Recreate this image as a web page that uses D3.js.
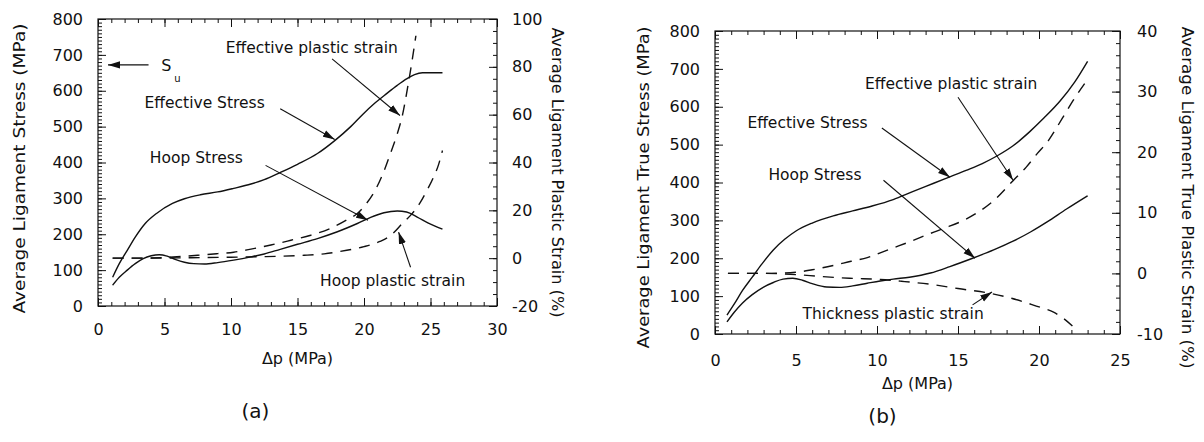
<!DOCTYPE html>
<html>
<head>
<meta charset="utf-8">
<script src="https://cdn.jsdelivr.net/npm/d3@7"></script>
<style>
  html, body { margin: 0; padding: 0; background: #fff; }
  svg { display: block; }
  text { font-family: "DejaVu Sans", "Liberation Sans", sans-serif; fill: #111; }
</style>
</head>
<body>
<svg id="chart" width="1204" height="442"></svg>
<script>
// ---------- Panel (a): engineering stress / plastic strain vs pressure difference ----------
const dpEffStressA = [1.1, 1.6, 2.2, 2.8, 3.5, 4.4, 5.6, 6.5, 7.7, 9.0, 10.2, 11.5, 12.5, 13.7, 15.0, 16.5, 17.8, 19.0, 19.9, 20.8, 21.7, 22.5, 23.2, 23.8, 24.4, 25.0, 25.9];
const effStressA   = [80, 118, 155, 192, 228, 258, 286, 299, 310, 318, 328, 340, 352, 372, 395, 425, 461, 500, 534, 565, 592, 615, 633, 645, 650, 650, 650];

const dpHoopStressA = [1.1, 1.6, 2.2, 2.8, 3.4, 4.0, 4.6, 5.2, 5.8, 6.5, 7.2, 8.0, 9.0, 10.2, 11.5, 12.5, 13.7, 15.0, 16.5, 18.0, 19.5, 20.5, 21.5, 22.5, 23.2, 24.0, 24.8, 25.9];
const hoopStressA   = [58, 80, 100, 118, 132, 140, 143, 139, 130, 122, 118, 117, 121, 128, 137, 145, 158, 172, 188, 207, 230, 247, 260, 265, 262, 248, 232, 214];

const dpEffStrainA = [1.1, 3.0, 5.0, 6.5, 7.5, 9.0, 10.2, 11.5, 13.0, 14.5, 16.0, 17.5, 18.7, 19.5, 20.2, 20.8, 21.4, 22.0, 22.5, 22.9, 23.3, 23.6, 23.9];
const effStrainA   = [0, 0, 0.3, 0.8, 1.2, 1.9, 2.5, 3.8, 5.5, 7.5, 9.6, 12.5, 16.0, 18.7, 23.0, 28.0, 35.0, 44.0, 52.0, 60.0, 72.0, 82.0, 93.0];

const dpHoopStrainA = [1.1, 4.0, 7.0, 10.0, 12.0, 13.7, 15.5, 17.0, 18.7, 20.0, 21.2, 22.0, 22.9, 23.6, 24.2, 24.7, 25.2, 25.6, 25.9];
const hoopStrainA   = [0, 0, 0.2, 0.4, 0.6, 0.8, 1.2, 1.8, 3.3, 4.8, 7.0, 9.5, 14.6, 18.5, 23.0, 28.0, 33.5, 39.0, 45.0];

const xTicksA  = [0, 5, 10, 15, 20, 25, 30];
const yLTicksA = [0, 100, 200, 300, 400, 500, 600, 700, 800];
const yRTicksA = [-20, 0, 20, 40, 60, 80, 100];

// ---------- Panel (b): true stress / true plastic strain vs pressure difference ----------
const dpEffStressB = [0.74, 1.2, 1.7, 2.3, 2.9, 3.6, 4.3, 5.0, 6.0, 7.3, 8.5, 9.7, 11.0, 12.2, 13.5, 14.5, 15.5, 16.5, 17.4, 18.4, 19.4, 20.3, 21.3, 22.2, 23.0];
const effStressB   = [50, 80, 115, 150, 185, 222, 250, 272, 293, 312, 325, 338, 355, 376, 398, 415, 432, 450, 470, 497, 533, 570, 615, 665, 720];

const dpHoopStressB = [0.74, 1.2, 1.7, 2.3, 3.0, 3.6, 4.2, 4.8, 5.4, 6.0, 6.9, 7.7, 8.5, 9.4, 10.2, 11.0, 12.0, 13.3, 14.5, 15.9, 17.2, 18.4, 19.5, 20.5, 21.7, 23.0];
const hoopStressB   = [32, 58, 82, 104, 124, 136, 145, 147, 142, 133, 124, 123, 127, 134, 140, 145, 150, 161, 178, 200, 222, 245, 270, 296, 330, 365];

const dpEffStrainB = [0.8, 3.0, 5.0, 6.0, 7.3, 8.4, 9.4, 10.2, 11.0, 12.0, 13.3, 14.3, 15.3, 16.3, 17.2, 18.4, 19.2, 19.9, 20.6, 21.1, 21.6, 22.1, 23.0];
const effStrainB   = [0, 0, 0.2, 0.6, 1.3, 2.0, 2.6, 3.4, 4.2, 5.2, 6.6, 7.6, 8.7, 10.2, 12.0, 15.3, 17.5, 19.8, 22.0, 24.1, 26.3, 28.5, 32.0];

const dpThickStrainB = [0.8, 3.0, 5.0, 6.5, 8.3, 10.2, 11.5, 13.3, 15.0, 17.0, 18.3, 19.4, 20.2, 20.9, 21.5, 22.2];
const thickStrainB   = [0, 0, -0.2, -0.5, -0.8, -1.0, -1.3, -1.8, -2.5, -3.3, -4.1, -5.0, -5.7, -6.4, -7.4, -9.0];

const xTicksB  = [0, 5, 10, 15, 20, 25];
const yLTicksB = [0, 100, 200, 300, 400, 500, 600, 700, 800];
const yRTicksB = [-10, 0, 10, 20, 30, 40];

// ---------- drawing ----------
const svg = d3.select("#chart");
const ink = "#111";

svg.append("defs").append("marker")
  .attr("id", "head")
  .attr("viewBox", "0 -4 12 8")
  .attr("refX", 12).attr("refY", 0)
  .attr("markerWidth", 12).attr("markerHeight", 8)
  .attr("markerUnits", "userSpaceOnUse")
  .attr("orient", "auto")
  .append("path")
  .attr("d", "M0,-3.6L12,0L0,3.6Z")
  .attr("fill", ink);

const zip = (xs, ys) => xs.map((v, i) => [v, ys[i]]);

function styleAxis(sel, size) {
  sel.select(".domain").remove();
  sel.selectAll("line").attr("stroke", ink).attr("stroke-width", 1);
  sel.selectAll("text").attr("font-size", size).attr("font-family", '"DejaVu Sans", sans-serif').attr("fill", ink);
}

function drawPanel(p) {
  const g = svg.append("g");
  const x = d3.scaleLinear().domain(p.xDomain).range([p.left, p.right]);
  const yL = d3.scaleLinear().domain(p.yLDomain).range([p.bottom, p.top]);
  const yR = d3.scaleLinear().domain(p.yRDomain).range([p.bottom, p.top]);

  const xMinor = d3.range(p.xDomain[0], p.xDomain[1] + 0.001, 1);
  const yLMinor = d3.range(p.yLDomain[0], p.yLDomain[1] + 0.001, 10);
  const yRMinor = d3.range(p.yRDomain[0], p.yRDomain[1] + 0.001, p.yRMinorStep);

  // minor ticks, all four sides, pointing inward
  g.append("g").attr("transform", `translate(0,${p.bottom})`)
    .call(d3.axisBottom(x).tickValues(xMinor).tickSize(-4).tickFormat("")).call(styleAxis, 16);
  g.append("g").attr("transform", `translate(0,${p.top})`)
    .call(d3.axisTop(x).tickValues(xMinor).tickSize(-4).tickFormat("")).call(styleAxis, 16);
  g.append("g").attr("transform", `translate(${p.left},0)`)
    .call(d3.axisLeft(yL).tickValues(yLMinor).tickSize(-4).tickFormat("")).call(styleAxis, 16);
  g.append("g").attr("transform", `translate(${p.right},0)`)
    .call(d3.axisRight(yR).tickValues(yRMinor).tickSize(-4).tickFormat("")).call(styleAxis, 16);

  // major ticks with labels
  g.append("g").attr("transform", `translate(0,${p.bottom})`)
    .call(d3.axisBottom(x).tickValues(p.xTicks).tickSize(-8).tickPadding(p.xPad).tickFormat(d3.format("d"))).call(styleAxis, 16);
  g.append("g").attr("transform", `translate(0,${p.top})`)
    .call(d3.axisTop(x).tickValues(p.xTicks).tickSize(-8).tickFormat("")).call(styleAxis, 16);
  g.append("g").attr("transform", `translate(${p.left},0)`)
    .call(d3.axisLeft(yL).tickValues(p.yLTicks).tickSize(-8).tickPadding(15).tickFormat(d3.format("d"))).call(styleAxis, 16);
  g.append("g").attr("transform", `translate(${p.right},0)`)
    .call(d3.axisRight(yR).tickValues(p.yRTicks).tickSize(-8).tickPadding(p.yRPad).tickFormat(d => String(d))).call(styleAxis, 16);

  // frame
  g.append("rect")
    .attr("x", p.left).attr("y", p.top)
    .attr("width", p.right - p.left).attr("height", p.bottom - p.top)
    .attr("fill", "none").attr("stroke", ink).attr("stroke-width", 1.2);

  // curves
  p.series.forEach(s => {
    const y = s.axis === "L" ? yL : yR;
    const line = d3.line().x(d => x(d[0])).y(d => y(d[1])).curve(d3.curveMonotoneX);
    g.append("path")
      .attr("d", line(zip(s.xs, s.ys)))
      .attr("fill", "none")
      .attr("stroke", ink)
      .attr("stroke-width", 1.4)
      .attr("stroke-dasharray", s.dashed ? "11,8" : null);
  });

  // callouts: label text plus arrow, positioned in data units on the stress axis
  p.notes.forEach(n => {
    g.append("text")
      .attr("x", x(n.tx)).attr("y", yL(n.ty))
      .attr("dy", "0.35em")
      .attr("font-size", 15.5)
      .text(n.text);
    g.append("line")
      .attr("x1", x(n.ax1)).attr("y1", yL(n.ay1))
      .attr("x2", x(n.ax2)).attr("y2", yL(n.ay2))
      .attr("stroke", ink).attr("stroke-width", 1.1)
      .attr("marker-end", "url(#head)");
  });

  // axis titles
  const midY = (p.top + p.bottom) / 2;
  g.append("text")
    .attr("transform", `translate(${p.left - p.yLTitleOff},${midY + p.yLTitleShift}) rotate(-90)`)
    .attr("text-anchor", "middle").attr("dominant-baseline", "central")
    .attr("font-size", 16)
    .attr("textLength", p.yLTitleLen).attr("lengthAdjust", "spacingAndGlyphs")
    .text(p.yLTitle);
  g.append("text")
    .attr("transform", `translate(${p.right + p.yRTitleOff},${midY + p.yRTitleShift}) rotate(90)`)
    .attr("text-anchor", "middle").attr("dominant-baseline", "central")
    .attr("font-size", 16)
    .attr("textLength", p.yRTitleLen).attr("lengthAdjust", "spacingAndGlyphs")
    .text(p.yRTitle);
  g.append("text")
    .attr("x", (p.left + p.right) / 2).attr("y", p.bottom + p.xTitleOff)
    .attr("text-anchor", "middle").attr("dominant-baseline", "central")
    .attr("font-size", 16).text("Δp (MPa)");
  g.append("text")
    .attr("x", (p.left + p.right) / 2 - p.tagShift).attr("y", p.bottom + p.tagOff)
    .attr("text-anchor", "middle").attr("dominant-baseline", "central")
    .attr("font-size", 20).text(p.tag);

  return { x, yL, yR, g };
}

const panelA = drawPanel({
  left: 98, right: 497, top: 19, bottom: 306,
  xDomain: [0, 30], yLDomain: [0, 800], yRDomain: [-20, 100], yRMinorStep: 5,
  xTicks: xTicksA, yLTicks: yLTicksA, yRTicks: yRTicksA,
  xPad: 18, yRPad: 15,
  yLTitle: "Average Ligament Stress (MPa)",
  yRTitle: "Average Ligament Plastic Strain (%)",
  yLTitleOff: 79, yLTitleShift: 6, yLTitleLen: 290,
  yRTitleOff: 60, yRTitleShift: 10, yRTitleLen: 290,
  xTitleOff: 52, tag: "(a)", tagOff: 105, tagShift: 42,
  series: [
    { xs: dpEffStressA, ys: effStressA, axis: "L" },
    { xs: dpHoopStressA, ys: hoopStressA, axis: "L" },
    { xs: dpEffStrainA, ys: effStrainA, axis: "R", dashed: true },
    { xs: dpHoopStrainA, ys: hoopStrainA, axis: "R", dashed: true }
  ],
  notes: [
    { text: "Effective plastic strain", tx: 9.6, ty: 719, ax1: 17.6, ay1: 689, ax2: 22.7, ay2: 531 },
    { text: "Effective Stress", tx: 3.5, ty: 567, ax1: 13.7, ay1: 550, ax2: 17.8, ay2: 464 },
    { text: "Hoop Stress", tx: 3.9, ty: 414, ax1: 12.6, ay1: 392, ax2: 20.3, ay2: 239 },
    { text: "Hoop plastic strain", tx: 16.7, ty: 72, ax1: 23.5, ay1: 108, ax2: 22.6, ay2: 206 }
  ]
});

// ultimate strength marker on the stress axis
{
  const { x, yL, g } = panelA;
  const su = 672;
  g.append("line")
    .attr("x1", x(3.8)).attr("y1", yL(su))
    .attr("x2", x(0.75)).attr("y2", yL(su))
    .attr("stroke", ink).attr("stroke-width", 1.1)
    .attr("marker-end", "url(#head)");
  const t = g.append("text")
    .attr("x", x(4.75)).attr("y", yL(su)).attr("dy", "0.35em")
    .attr("font-size", 16);
  t.append("tspan").text("S");
  t.append("tspan").attr("font-size", 10).attr("dx", 3).attr("dy", 11).text("u");
}

drawPanel({
  left: 715, right: 1120, top: 31, bottom: 334,
  xDomain: [0, 25], yLDomain: [0, 800], yRDomain: [-10, 40], yRMinorStep: 2,
  xTicks: xTicksB, yLTicks: yLTicksB, yRTicks: yRTicksB,
  xPad: 21, yRPad: 17,
  yLTitle: "Average Ligament True Stress (MPa)",
  yRTitle: "Average Ligament True Plastic Strain (%)",
  yLTitleOff: 72, yLTitleShift: 5, yLTitleLen: 322,
  yRTitleOff: 67, yRTitleShift: 15, yRTitleLen: 342,
  xTitleOff: 49, tag: "(b)", tagOff: 82, tagShift: 35,
  series: [
    { xs: dpEffStressB, ys: effStressB, axis: "L" },
    { xs: dpHoopStressB, ys: hoopStressB, axis: "L" },
    { xs: dpEffStrainB, ys: effStrainB, axis: "R", dashed: true },
    { xs: dpThickStrainB, ys: thickStrainB, axis: "R", dashed: true }
  ],
  notes: [
    { text: "Effective plastic strain", tx: 9.26, ty: 662, ax1: 15.0, ay1: 625, ax2: 18.4, ay2: 406 },
    { text: "Effective Stress", tx: 2.0, ty: 559, ax1: 10.3, ay1: 544, ax2: 14.5, ay2: 414 },
    { text: "Hoop Stress", tx: 3.3, ty: 420, ax1: 10.4, ay1: 406, ax2: 16.05, ay2: 200 },
    { text: "Thickness plastic strain", tx: 5.4, ty: 55, ax1: 15.9, ay1: 77, ax2: 17.1, ay2: 111 }
  ]
});
</script>
</body>
</html>
